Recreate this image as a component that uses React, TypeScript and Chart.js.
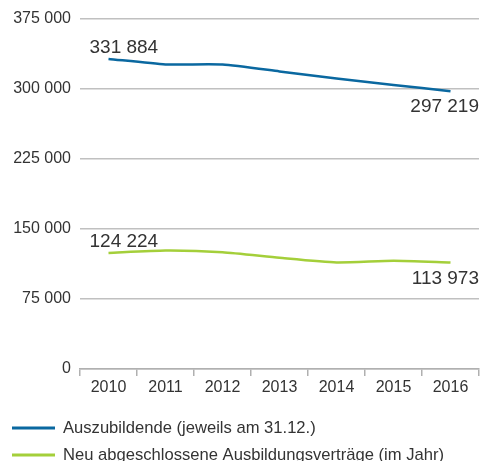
import React, { useEffect, useRef } from "react";
import { Chart, registerables } from "chart.js";

Chart.register(...registerables);

const years = ["2010", "2011", "2012", "2013", "2014", "2015", "2016"];
const auszubildende = [331884, 326000, 325800, 318500, 310800, 304000, 297219];
const neuVertraege = [124224, 126800, 125000, 119000, 114000, 115800, 113973];
const seriesNames = [
  "Auszubildende (jeweils am 31.12.)",
  "Neu abgeschlossene Ausbildungsverträge (im Jahr)",
];
const yTicks = [0, 75000, 150000, 225000, 300000, 375000];

const BLUE = "#0a68a0";
const GREEN = "#a4cf3a";
const TEXT = "#333333";
const FONT = "Liberation Sans, Arial, sans-serif";

const fmt = (v: number) => {
  const s = Math.round(v).toString();
  return s.replace(/\B(?=(\d{3})+(?!\d))/g, " ");
};

const labelPlugin = {
  id: "labels",
  afterDatasetsDraw(chart: any) {
    const ctx = chart.ctx;
    ctx.save();
    ctx.fillStyle = TEXT;
    ctx.font = `19px ${FONT}`;
    ctx.textBaseline = "alphabetic";
    chart.data.datasets.forEach((ds: any, i: number) => {
      const meta = chart.getDatasetMeta(i);
      const first = meta.data[0];
      const last = meta.data[meta.data.length - 1];
      ctx.textAlign = "left";
      ctx.fillText(fmt(ds.data[0]), first.x - 19, first.y - 6);
      ctx.textAlign = "right";
      ctx.fillText(fmt(ds.data[ds.data.length - 1]), last.x + 28.5, last.y + 21);
    });
    // legend
    const items = [
      { name: seriesNames[0], color: BLUE, y: 428 },
      { name: seriesNames[1], color: GREEN, y: 455 },
    ];
    ctx.font = `16.6px ${FONT}`;
    ctx.textAlign = "left";
    ctx.textBaseline = "middle";
    items.forEach((it) => {
      ctx.strokeStyle = it.color;
      ctx.lineWidth = 3;
      ctx.beginPath();
      ctx.moveTo(12, it.y);
      ctx.lineTo(55, it.y);
      ctx.stroke();
      ctx.fillStyle = TEXT;
      ctx.fillText(it.name, 63, it.y + 0.5);
    });
    ctx.restore();
  },
};

export default function App() {
  const ref = useRef<HTMLCanvasElement>(null);
  useEffect(() => {
    document.body.style.margin = "0";
    const chart = new Chart(ref.current!, {
      type: "line",
      data: {
        labels: years,
        datasets: [
          {
            label: seriesNames[0],
            data: auszubildende,
            borderColor: BLUE,
            borderWidth: 2.5,
            pointRadius: 0,
            tension: 0.2,
          },
          {
            label: seriesNames[1],
            data: neuVertraege,
            borderColor: GREEN,
            borderWidth: 2.5,
            pointRadius: 0,
            tension: 0.2,
          },
        ],
      },
      options: {
        responsive: false,
        animation: false,
        layout: { padding: { top: 17, right: 10, bottom: 62, left: 0 } },
        plugins: {
          legend: { display: false },
          tooltip: { enabled: false },
        },
        scales: {
          x: {
            offset: true,
            grid: {
              offset: true,
              drawOnChartArea: false,
              drawTicks: true,
              tickLength: 7,
              color: "#b0b0b0",
              lineWidth: 1.5,
            },
            border: { color: "#b0b0b0", width: 1.5 },
            ticks: { color: TEXT, font: { family: FONT, size: 16 }, padding: 2 },
            afterFit: (s: any) => {
              s.height = 30;
            },
          },
          y: {
            min: 0,
            max: 375000,
            afterBuildTicks: (s: any) => {
              s.ticks = yTicks.map((v) => ({ value: v }));
            },
            grid: { drawTicks: false, color: "#c0c0c0", lineWidth: 1.5 },
            border: { display: false },
            ticks: {
              color: TEXT,
              font: { family: FONT, size: 16 },
              padding: 9,
              callback: (v: any) => fmt(Number(v)),
            },
            afterFit: (s: any) => {
              s.width = 80;
            },
          },
        },
      },
      plugins: [labelPlugin],
    });
    return () => chart.destroy();
  }, []);
  return (
    <div style={{ width: 489, height: 461 }}>
      <canvas ref={ref} width={489} height={461} />
    </div>
  );
}
